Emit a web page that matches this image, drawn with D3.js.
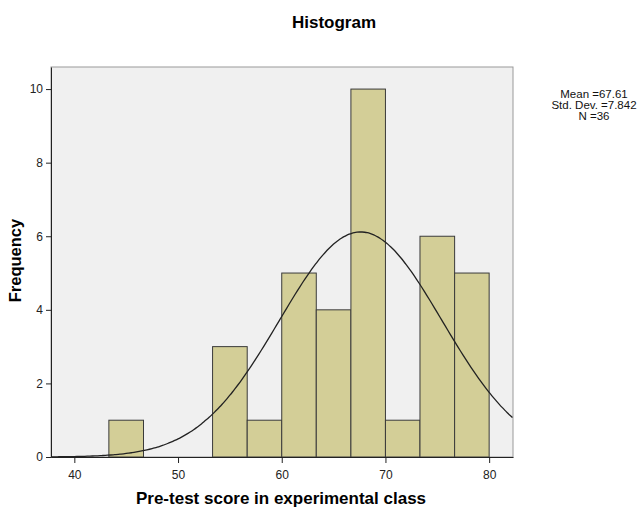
<!DOCTYPE html>
<html>
<head>
<meta charset="utf-8">
<script src="https://cdn.jsdelivr.net/npm/d3@7"></script>
<style>
  body { margin: 0; background: #fff; }
  svg text { font-family: "Liberation Sans", Arial, sans-serif; }
</style>
</head>
<body>
<svg id="chart" width="640" height="509"></svg>
<script>
// Bins (lower edge, upper edge) and frequencies
const binStarts = [43.33, 46.67, 50, 53.33, 56.67, 60, 63.33, 66.67, 70, 73.33, 76.67];
const binEnds   = [46.67, 50, 53.33, 56.67, 60, 63.33, 66.67, 70, 73.33, 76.67, 80];
const counts    = [1, 0, 0, 3, 1, 5, 4, 10, 1, 6, 5];
const xTicks = [40, 50, 60, 70, 80];
const yTicks = [0, 2, 4, 6, 8, 10];
const statLines = ["Mean =67.61", "Std. Dev. =7.842", "N =36"];
const mean = 67.61, sd = 7.842, n = 36;

const svg = d3.select("#chart");
const plot = { left: 51, top: 67, right: 513, bottom: 457 };

const x = d3.scaleLinear().domain([37.75, 82.3]).range([plot.left, plot.right]);
const y = d3.scaleLinear().domain([0, 10.6]).range([plot.bottom, plot.top]);

// plot background
svg.append("rect")
    .attr("x", plot.left).attr("y", plot.top)
    .attr("width", plot.right - plot.left)
    .attr("height", plot.bottom - plot.top)
    .attr("fill", "#f0f0f0")
    .attr("stroke", "#9a9a9a");

// bars
const bins = binStarts.map((s, i) => ({ x0: s, x1: binEnds[i], c: counts[i] }));
svg.append("g").selectAll("rect")
    .data(bins.filter(d => d.c > 0))
    .enter().append("rect")
    .attr("x", d => x(d.x0))
    .attr("y", d => y(d.c))
    .attr("width", d => x(d.x1) - x(d.x0))
    .attr("height", d => y(0) - y(d.c))
    .attr("fill", "#d3ce97")
    .attr("stroke", "#3a3a3a")
    .attr("stroke-width", 1);

// normal curve from reported mean / sd
const bw = binEnds[0] - binStarts[0];
const curvePts = d3.range(37.75, 82.31, 0.25).map(v => ({
    v: v,
    f: n * bw / (sd * Math.sqrt(2 * Math.PI)) * Math.exp(-0.5 * Math.pow((v - mean) / sd, 2))
}));
svg.append("path")
    .datum(curvePts)
    .attr("fill", "none")
    .attr("stroke", "#222")
    .attr("stroke-width", 1.3)
    .attr("d", d3.line().x(d => x(d.v)).y(d => y(d.f)).curve(d3.curveBasis));

// axes
const xAxis = svg.append("g")
    .attr("transform", `translate(0,${plot.bottom})`)
    .call(d3.axisBottom(x).tickValues(xTicks).tickSize(6).tickSizeOuter(0));
const yAxis = svg.append("g")
    .attr("transform", `translate(${plot.left},0)`)
    .call(d3.axisLeft(y).tickValues(yTicks).tickSize(5).tickSizeOuter(0));

[xAxis, yAxis].forEach(g => {
    g.select(".domain").attr("stroke", "#222");
    g.selectAll(".tick line").attr("stroke", "#222");
    g.selectAll(".tick text")
        .attr("fill", "#222")
        .style("font-size", "12px")
        .style("font-family", "'Liberation Sans', Arial, sans-serif");
});
xAxis.selectAll(".tick text").attr("dy", "1.05em");

// titles
svg.append("text")
    .attr("x", 334).attr("y", 28)
    .attr("text-anchor", "middle")
    .style("font-size", "17px")
    .style("font-weight", "bold")
    .text("Histogram");

svg.append("text")
    .attr("x", 281).attr("y", 504)
    .attr("text-anchor", "middle")
    .style("font-size", "17px")
    .style("font-weight", "bold")
    .text("Pre-test score in experimental class");

svg.append("text")
    .attr("transform", "translate(21,260.5) rotate(-90)")
    .attr("text-anchor", "middle")
    .style("font-size", "16.5px")
    .style("font-weight", "bold")
    .text("Frequency");

// stats box
svg.append("g").selectAll("text")
    .data(statLines)
    .enter().append("text")
    .attr("x", 594)
    .attr("y", (d, i) => 98 + i * 11)
    .attr("text-anchor", "middle")
    .style("font-size", "11.5px")
    .attr("fill", "#111")
    .text(d => d);
</script>
</body>
</html>
